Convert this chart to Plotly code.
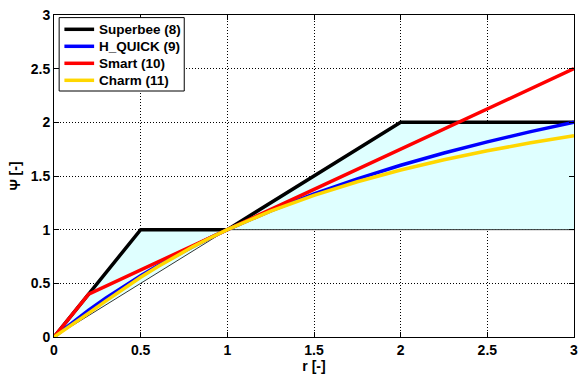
import plotly.graph_objects as go

# Data
r_sb = [0, 0.5, 1, 2, 3]
psi_sb = [0, 1, 1, 2, 2]

r_smart = [0, 0.2, 3]
psi_smart = [0, 0.4, 2.5]

r_curve = [0, 0.1, 0.2, 0.3, 0.4, 0.5, 0.6, 0.7, 0.8, 0.9, 1.0,
           1.25, 1.5, 1.75, 2.0, 2.25, 2.5, 2.75, 3.0]
psi_hquick = [0, 0.129, 0.25, 0.364, 0.471, 0.571, 0.667, 0.757, 0.842, 0.923, 1.0,
              1.176, 1.333, 1.474, 1.6, 1.714, 1.818, 1.913, 2.0]
psi_charm = [0, 0.107, 0.222, 0.337, 0.449, 0.556, 0.656, 0.751, 0.840, 0.922, 1.0,
             1.173, 1.32, 1.446, 1.556, 1.651, 1.735, 1.809, 1.875]

# TVD region polygon
r_region = [0, 0.5, 1, 2, 3, 3, 1, 0]
psi_region = [0, 1, 1, 2, 2, 1, 1, 0]
r_lower = [0, 1, 3]
psi_lower = [0, 1, 1]

tick_vals = [0, 0.5, 1, 1.5, 2, 2.5, 3]
tick_text = ["0", "0.5", "1", "1.5", "2", "2.5", "3"]

series_names = ["Superbee (8)", "H_QUICK (9)", "Smart (10)", "Charm (11)"]
series_colors = ["black", "#0000FF", "#FF0000", "#FFD700"]

font = "Liberation Sans"
LW = 3.5

fig = go.Figure()
fig.add_trace(go.Scatter(x=r_region, y=psi_region, fill="toself", fillcolor="#DFFFFF",
                         mode="none", showlegend=False, hoverinfo="skip"))
fig.add_trace(go.Scatter(x=r_lower, y=psi_lower, mode="lines",
                         line=dict(color="black", width=0.8), showlegend=False))
fig.add_trace(go.Scatter(x=r_sb, y=psi_sb, mode="lines", name=series_names[0],
                         line=dict(color=series_colors[0], width=LW), showlegend=False))
fig.add_trace(go.Scatter(x=r_curve, y=psi_hquick, mode="lines", name=series_names[1],
                         line=dict(color=series_colors[1], width=LW), showlegend=False))
fig.add_trace(go.Scatter(x=r_smart, y=psi_smart, mode="lines", name=series_names[2],
                         line=dict(color=series_colors[2], width=LW), showlegend=False))
fig.add_trace(go.Scatter(x=r_curve, y=psi_charm, mode="lines", name=series_names[3],
                         line=dict(color=series_colors[3], width=LW), showlegend=False))

# Legend box (drawn manually to match compact MATLAB legend)
L_left, L_top, L_w = 53.5, 14.7, 525.0
P_h = 322.0
def px2x(px):
    return (px - L_left) / L_w
def px2y(py):
    return (L_top + P_h - py) / P_h

shapes = [dict(type="rect", xref="paper", yref="paper",
               x0=px2x(58.7), x1=px2x(185), y0=px2y(90.7), y1=px2y(17.3),
               line=dict(color="black", width=1), fillcolor="white", layer="above")]
annotations = []
row_y = [29, 46, 63, 80]
for name, col, py in zip(series_names, series_colors, row_y):
    shapes.append(dict(type="line", xref="paper", yref="paper",
                       x0=px2x(64), x1=px2x(94), y0=px2y(py), y1=px2y(py),
                       line=dict(color=col, width=LW), layer="above"))
    annotations.append(dict(xref="paper", yref="paper", x=px2x(96.5), y=px2y(py),
                            xanchor="left", yanchor="middle", showarrow=False,
                            text=name,
                            font=dict(family=font, size=13.5, color="black", weight="bold")))

axis_common = dict(showline=True, linecolor="black", linewidth=1, mirror="ticks",
                   ticks="inside", ticklen=5, tickcolor="black",
                   showgrid=True, gridcolor="black", griddash="1px,2px", gridwidth=1,
                   zeroline=False,
                   tickfont=dict(family=font, size=14, color="black", weight="bold"))

fig.update_layout(
    width=585, height=376,
    margin=dict(l=53.5, r=6.5, t=14.7, b=39.3),
    paper_bgcolor="white", plot_bgcolor="white",
    xaxis=dict(range=[0, 3], tickvals=tick_vals, ticktext=tick_text,
               title=dict(text="r [-]", standoff=2,
                          font=dict(family=font, size=14, color="black", weight="bold")),
               **axis_common),
    yaxis=dict(range=[0, 3], tickvals=tick_vals, ticktext=tick_text,
               title=dict(text="Ψ [-]", standoff=6,
                          font=dict(family=font, size=14, color="black", weight="bold")),
               **axis_common),
    shapes=shapes,
    annotations=annotations,
    showlegend=False,
)

fig.write_html("out.html")
